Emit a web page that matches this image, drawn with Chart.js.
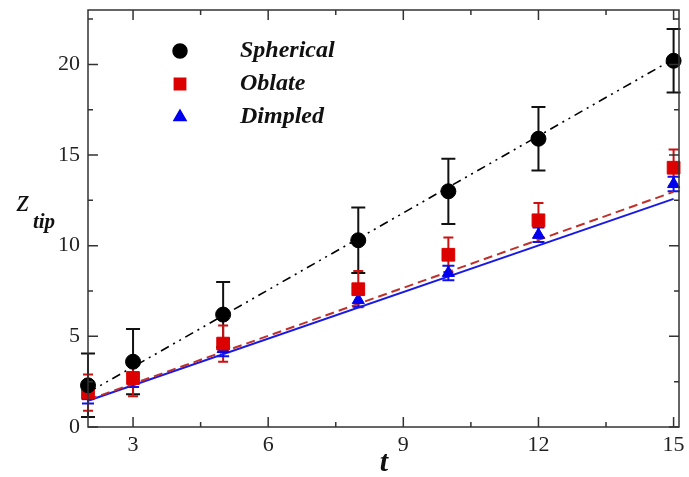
<!DOCTYPE html>
<html>
<head>
<meta charset="utf-8">
<script src="https://cdn.jsdelivr.net/npm/chart.js@4.4.0/dist/chart.umd.min.js"></script>
<style>
  html, body { margin: 0; padding: 0; background: #fff; }
  #wrap { width: 689px; height: 477px; }
</style>
</head>
<body>
<div id="wrap"><canvas id="ztip"></canvas></div>
<script>
// data
const tVals = [2, 3, 5, 8, 10, 12, 15];
const spherical = [2.3, 3.6, 6.2, 10.3, 13.0, 15.9, 20.2];
const sphericalErr = [1.75, 1.8, 1.8, 1.8, 1.8, 1.75, 1.75];
const oblate = [1.9, 2.7, 4.6, 7.6, 9.5, 11.4, 14.3];
const oblateErr = [1.0, 1.0, 1.0, 1.0, 0.95, 0.95, 1.0];
const dimpled = [1.7, 2.6, 4.3, 7.0, 8.5, 10.6, 13.4];
const dimpledErr = [0.4, 0.4, 0.4, 0.35, 0.4, 0.4, 0.4];

const fitT = [2, 15];
const fitSpherical = [1.9, 20.3];
const fitOblate = [1.5, 12.97];
const fitDimpled = [1.45, 12.58];

const xTicks = [3, 6, 9, 12, 15];
const yTicks = [0, 5, 10, 15, 20];

const seriesNames = ['Spherical', 'Oblate', 'Dimpled'];

const pts = (xs, ys) => xs.map((x, i) => ({x: x, y: ys[i]}));

const errorBars = [
  {vals: spherical, err: sphericalErr, color: '#111', cap: 7, width: 2},
  {vals: oblate, err: oblateErr, color: '#cc1111', cap: 5, width: 2},
  {vals: dimpled, err: dimpledErr, color: '#1111ee', cap: 6, width: 2}
];

const errorPlugin = {
  id: 'errbars',
  beforeDatasetsDraw(chart) {
    const ctx = chart.ctx, xs = chart.scales.x, ys = chart.scales.y;
    ctx.save();
    errorBars.forEach(s => {
      ctx.strokeStyle = s.color;
      ctx.lineWidth = s.width;
      tVals.forEach((t, i) => {
        const px = xs.getPixelForValue(t);
        const top = ys.getPixelForValue(s.vals[i] + s.err[i]);
        const bot = ys.getPixelForValue(s.vals[i] - s.err[i]);
        ctx.beginPath();
        ctx.moveTo(px, top); ctx.lineTo(px, bot);
        ctx.moveTo(px - s.cap, top); ctx.lineTo(px + s.cap, top);
        ctx.moveTo(px - s.cap, bot); ctx.lineTo(px + s.cap, bot);
        ctx.stroke();
      });
    });
    ctx.restore();
  }
};

const framePlugin = {
  id: 'frame',
  afterDraw(chart) {
    const ctx = chart.ctx, a = chart.chartArea;
    const xs = chart.scales.x, ys = chart.scales.y;
    ctx.save();
    ctx.strokeStyle = '#333';
    ctx.lineWidth = 1.5;
    ctx.strokeRect(a.left, a.top, a.right - a.left, a.bottom - a.top);
    ctx.beginPath();
    for (let v = 1.5; v <= 15; v += 1.5) {
      if (v < xs.min) continue;
      const px = xs.getPixelForValue(v);
      const len = (v % 3 === 0) ? 10 : 5;
      ctx.moveTo(px, a.bottom); ctx.lineTo(px, a.bottom - len);
      ctx.moveTo(px, a.top); ctx.lineTo(px, a.top + len);
    }
    for (let v = 0; v <= 22.5; v += 2.5) {
      const py = ys.getPixelForValue(v);
      const len = (v % 5 === 0) ? 10 : 5;
      ctx.moveTo(a.left, py); ctx.lineTo(a.left + len, py);
      ctx.moveTo(a.right, py); ctx.lineTo(a.right - len, py);
    }
    ctx.stroke();

    // axis titles
    ctx.fillStyle = '#111';
    ctx.textBaseline = 'middle';
    ctx.textAlign = 'center';
    ctx.font = 'italic bold 30px "Liberation Serif"';
    ctx.fillText('t', 384, 463);
    ctx.font = 'italic 32px "Liberation Serif"';
    ctx.fillText('z', 23, 203);
    ctx.font = 'italic bold 21px "Liberation Serif"';
    ctx.fillText('tip', 44, 223);

    // legend
    const legendMarks = [
      {style: 'circle', r: 7, color: '#000'},
      {style: 'rect', r: 8, color: '#dd0000'},
      {style: 'triangle', r: 7, color: '#0000ee'}
    ];
    ctx.textAlign = 'left';
    ctx.font = 'italic bold 24px "Liberation Serif"';
    seriesNames.forEach((name, i) => {
      const y = 51 + i * 33;
      const m = legendMarks[i];
      ctx.fillStyle = m.color;
      ctx.strokeStyle = m.color;
      Chart.helpers.drawPoint(ctx, {pointStyle: m.style, radius: m.r, borderWidth: 1, rotation: 0}, 180, y);
      ctx.fill();
      ctx.fillStyle = '#111';
      ctx.fillText(name, 240, y);
    });
    ctx.restore();
  }
};

const tickFont = {family: '"Liberation Serif"', size: 22};

new Chart(document.getElementById('ztip'), {
  type: 'scatter',
  data: {
    datasets: [
      {label: seriesNames[0], data: pts(tVals, spherical), pointStyle: 'circle', pointRadius: 7.5,
       backgroundColor: '#000', borderColor: '#000', order: 1},
      {label: seriesNames[1], data: pts(tVals, oblate), pointStyle: 'rect', pointRadius: 9,
       backgroundColor: '#dd0000', borderColor: '#dd0000', order: 1},
      {label: seriesNames[2], data: pts(tVals, dimpled), pointStyle: 'triangle', pointRadius: 7,
       backgroundColor: '#0000ee', borderColor: '#0000ee', order: 1},
      {label: 'fit spherical', data: pts(fitT, fitSpherical), showLine: true, pointRadius: 0,
       borderColor: '#000', borderWidth: 1.6, borderDash: [9, 5, 2, 5, 2, 5], order: 2},
      {label: 'fit oblate', data: pts(fitT, fitOblate), showLine: true, pointRadius: 0,
       borderColor: '#c0302a', borderWidth: 2, borderDash: [9, 5], order: 2},
      {label: 'fit dimpled', data: pts(fitT, fitDimpled), showLine: true, pointRadius: 0,
       borderColor: '#1a1ae6', borderWidth: 2, order: 2}
    ]
  },
  options: {
    responsive: true,
    maintainAspectRatio: false,
    animation: false,
    clip: false,
    layout: {padding: {left: 0, top: 8, right: 6, bottom: 0}},
    plugins: {
      legend: {display: false},
      tooltip: {enabled: false}
    },
    scales: {
      x: {
        type: 'linear', min: 2, max: 15.12,
        afterFit(s) { s.height = 50; s.paddingLeft = 0; s.paddingRight = 0; },
        afterBuildTicks(s) { s.ticks = xTicks.map(v => ({value: v})); },
        grid: {display: false, drawTicks: false},
        border: {display: false},
        ticks: {font: tickFont, color: '#222', padding: 5, maxRotation: 0}
      },
      y: {
        type: 'linear', min: 0, max: 23,
        afterFit(s) { s.width = 88; s.paddingTop = 0; s.paddingBottom = 0; },
        afterBuildTicks(s) { s.ticks = yTicks.map(v => ({value: v})); },
        grid: {display: false, drawTicks: false},
        border: {display: false},
        ticks: {font: tickFont, color: '#222', padding: 8}
      }
    }
  },
  plugins: [errorPlugin, framePlugin]
});
</script>
</body>
</html>
